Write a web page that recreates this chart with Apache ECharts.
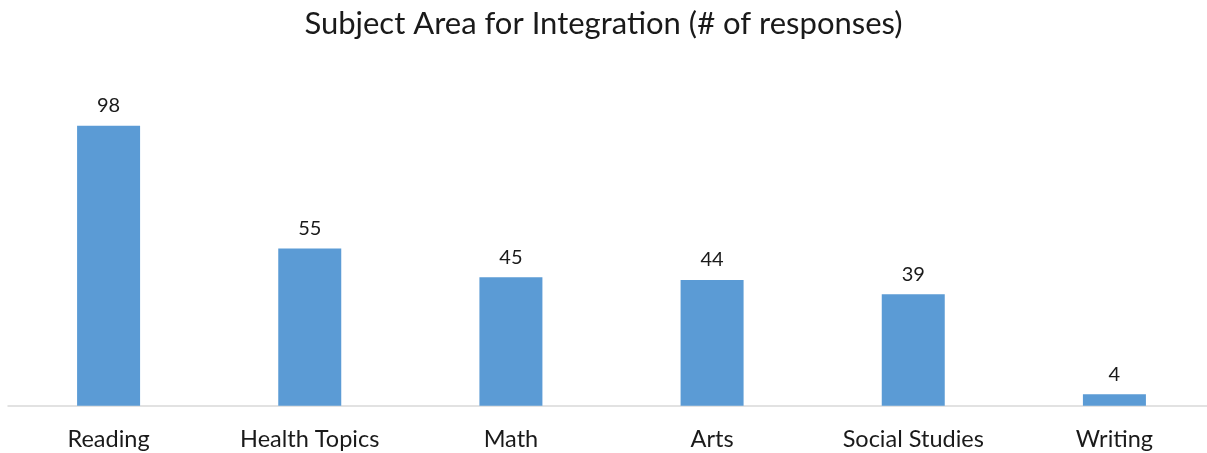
<!DOCTYPE html>
<html>
<head>
<meta charset="utf-8">
<script src="https://cdn.jsdelivr.net/npm/echarts@6/dist/echarts.min.js"></script>
<style>
  html, body { margin: 0; padding: 0; background: #fff; }
  #chart { width: 1207px; height: 453px; }
</style>
</head>
<body>
<div id="chart"></div>
<script>
const titleText = 'Subject Area for Integration (# of responses)';
const categories = ['Reading', 'Health Topics', 'Math', 'Arts', 'Social Studies', 'Writing'];
const responses = [98, 55, 45, 44, 39, 4];

const chart = echarts.init(document.getElementById('chart'));
const font = 'Lato';
chart.setOption({
  backgroundColor: '#ffffff',
  animation: false,
  title: {
    text: titleText,
    left: 'center',
    top: 3,
    textStyle: { fontFamily: font, fontSize: 31, fontWeight: 'normal', color: '#1a1a1a' }
  },
  grid: { left: 8, top: 120, width: 1207, height: 285.7, containLabel: false, outerBoundsMode: 'none' },
  xAxis: {
    type: 'category',
    data: categories,
    axisLine: { lineStyle: { color: '#d9d9d9', width: 1.5 } },
    axisTick: { show: false },
    axisLabel: { fontFamily: font, fontSize: 23.5, color: '#1a1a1a', margin: 22, interval: 0 }
  },
  yAxis: {
    type: 'value',
    min: 0,
    max: 100,
    show: false
  },
  series: [{
    type: 'bar',
    data: responses,
    barWidth: 63,
    itemStyle: { color: '#5b9bd5' },
    label: {
      show: true,
      position: 'top',
      distance: 10,
      fontFamily: font,
      fontSize: 20,
      color: '#1a1a1a'
    }
  }]
});
</script>
</body>
</html>
